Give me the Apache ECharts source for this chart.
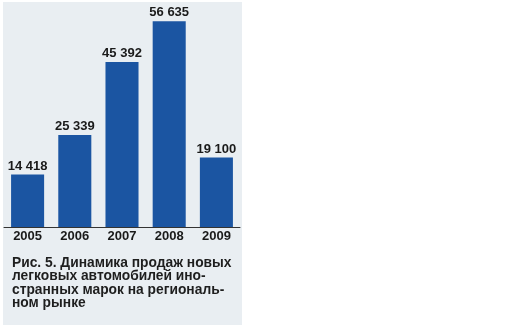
<!DOCTYPE html>
<html><head><meta charset="utf-8">
<script src="https://cdn.jsdelivr.net/npm/echarts@6/dist/echarts.min.js"></script>
<style>html,body{margin:0;padding:0;background:#fff}#c{width:506px;height:329px}</style>
</head><body><div id="c"></div>
<script>
const categories = ['2005', '2006', '2007', '2008', '2009'];
const sales = [14418, 25339, 45392, 56635, 19100];
const valueLabels = ['14 418', '25 339', '45 392', '56 635', '19 100'];
const caption = 'Рис. 5. Динамика продаж новых\nлегковых автомобилей ино-\nстранных марок на региональ-\nном рынке';

const chart = echarts.init(document.getElementById('c'));
chart.setOption({
  animation: false,
  backgroundColor: '#ffffff',
  graphic: [
    { type: 'rect', z: -10, shape: { x: 3, y: 2, width: 239, height: 323 }, style: { fill: '#e9eef2' } }
  ],
  title: {
    text: caption,
    left: 12, top: 256, padding: 0,
    textStyle: { fontFamily: 'Liberation Sans, Arial, sans-serif', fontWeight: 'bold', fontSize: 13.8, color: '#1e1e1e', lineHeight: 13.6 }
  },
  grid: { left: 4, top: 9, width: 236, height: 218 },
  xAxis: {
    type: 'category', data: categories,
    axisLine: { lineStyle: { color: '#333', width: 1 } },
    axisTick: { show: false },
    axisLabel: { margin: 3, fontFamily: 'Liberation Sans, Arial, sans-serif', fontWeight: 'bold', fontSize: 13, color: '#1a1a1a' }
  },
  yAxis: { type: 'value', min: 0, max: 60000, show: false, splitLine: { show: false } },
  series: [{
    type: 'bar', data: sales, barWidth: '70%',
    itemStyle: { color: '#1b55a2' },
    label: {
      show: true, position: 'top', distance: 2,
      formatter: p => valueLabels[p.dataIndex],
      fontFamily: 'Liberation Sans, Arial, sans-serif', fontWeight: 'bold', fontSize: 13, color: '#1a1a1a'
    }
  }]
});
</script></body></html>
